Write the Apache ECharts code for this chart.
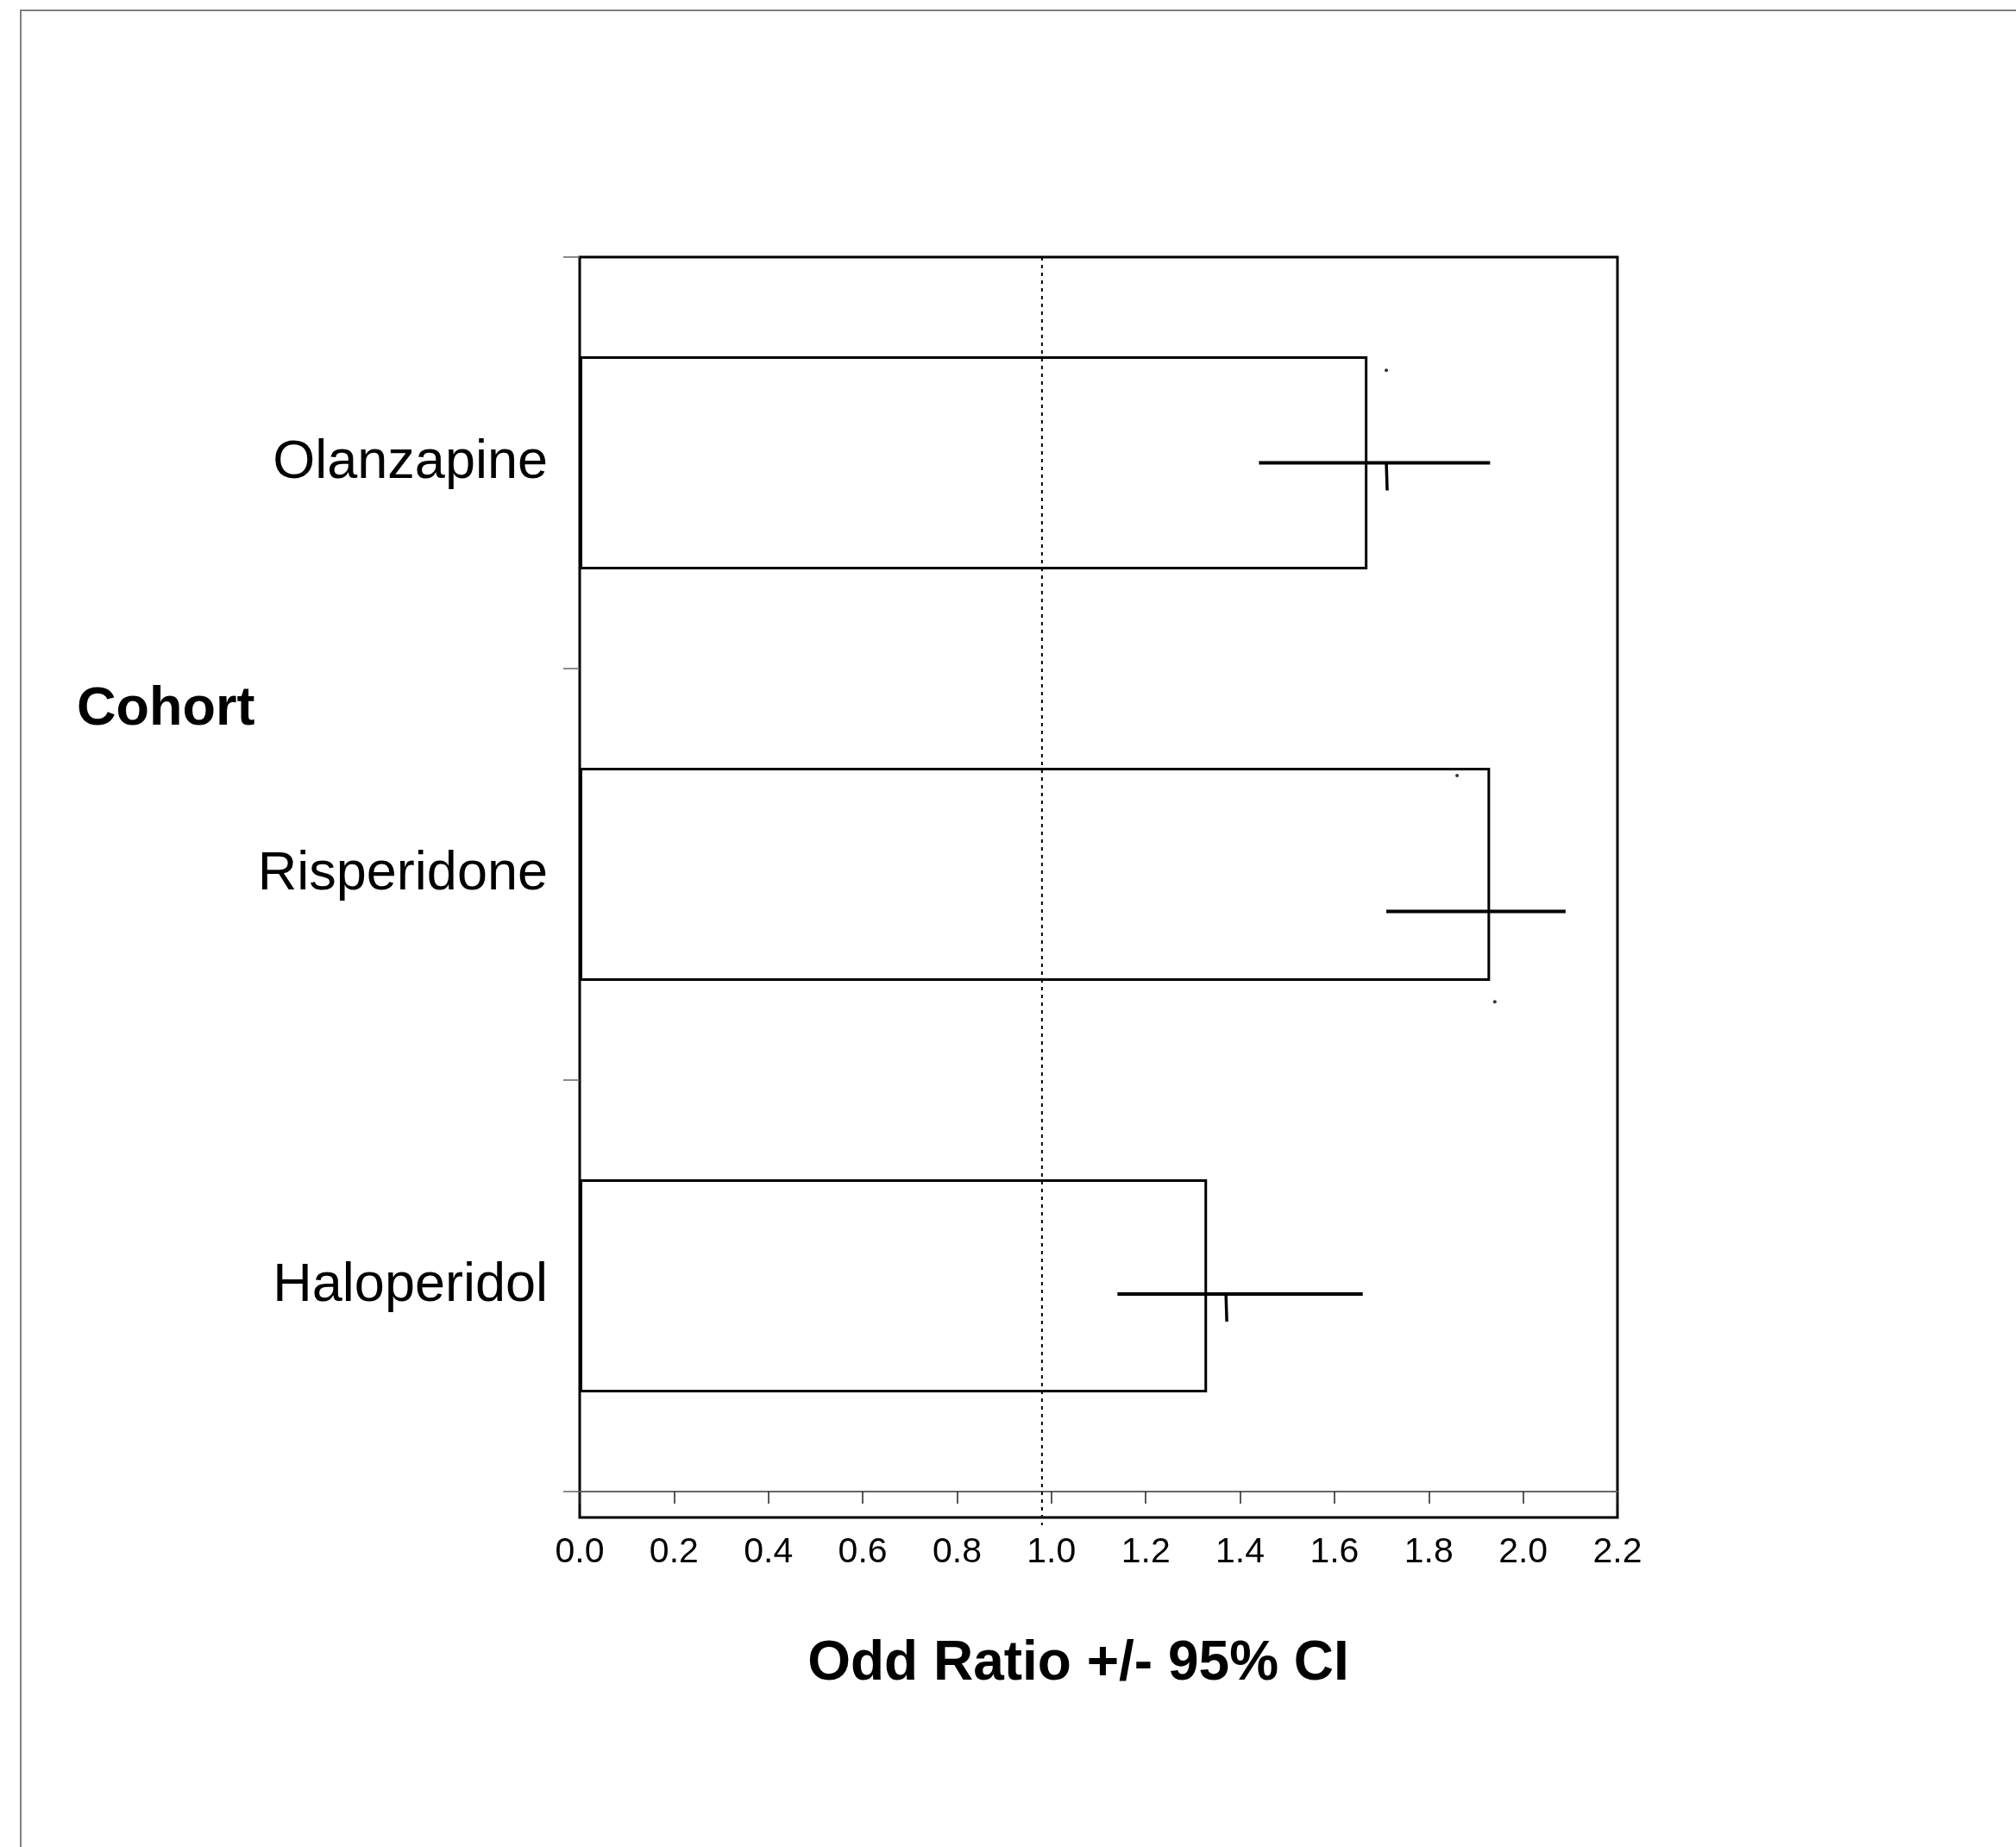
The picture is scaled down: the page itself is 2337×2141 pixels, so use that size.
<!DOCTYPE html>
<html><head><meta charset="utf-8">
<script src="https://cdn.jsdelivr.net/npm/echarts@6/dist/echarts.min.js"></script>
<style>html,body{margin:0;padding:0;background:#fff}#c{width:2337px;height:2141px}</style>
</head><body><div id="c"></div>
<script>
const categories = ['Olanzapine', 'Risperidone', 'Haloperidol'];
const oddsRatio = [1.67, 1.93, 1.33];
const ciLow = [1.44, 1.71, 1.14];
const ciHigh = [1.93, 2.09, 1.66];
const ciRow = [0.50, 1.59, 2.52];      // vertical position of each CI line, in category rows
const hangTick = [1.71, null, 1.37];   // small hanging marks under the CI lines
const strayDots = [[1.71, 0.275], [1.86, 1.26], [1.94, 1.81]];
const xMin = 0, xMax = 2.2, xInterval = 0.2;
const refValue = [0.98];
const rowCount = 3;

const FONT = 'Liberation Sans, Arial, sans-serif';
const chart = echarts.init(document.getElementById('c'), null, {renderer: 'canvas'});

const errData = categories.map((c, i) => [ciLow[i], ciHigh[i], ciRow[i], hangTick[i] == null ? NaN : hangTick[i]]);

chart.setOption({
  backgroundColor: '#fff',
  animation: false,
  grid: [
    {left: 672, right: 462, top: 298, bottom: 412, containLabel: false},
    {left: 672, right: 462, top: 298, bottom: 382, show: true, borderColor: '#000', borderWidth: 3, backgroundColor: 'transparent'}
  ],
  xAxis: [
    {
      type: 'value', gridIndex: 0, min: xMin, max: xMax, interval: xInterval,
      axisLine: {show: true, onZero: false, lineStyle: {color: '#666', width: 2}},
      axisTick: {show: true, length: 14, lineStyle: {color: '#222', width: 1.5}},
      axisLabel: {fontSize: 41, margin: 50, color: '#000', fontFamily: FONT, formatter: v => v.toFixed(1)},
      splitLine: {show: false}
    },
    {type: 'value', gridIndex: 1, min: xMin, max: xMax, show: false}
  ],
  yAxis: [
    {
      type: 'category', gridIndex: 0, data: categories, inverse: true,
      axisLine: {show: false},
      axisTick: {show: true, length: 19, lineStyle: {color: '#666', width: 1.5}},
      axisLabel: {fontSize: 63, margin: 37, color: '#000', fontFamily: FONT, padding: [14, 0, 0, 0]}
    },
    {type: 'value', gridIndex: 0, min: 0, max: rowCount, inverse: true, show: false},
    {type: 'value', gridIndex: 1, min: 0, max: 1, show: false}
  ],
  graphic: [
    {type: 'rect', shape: {x: 24, y: 12, width: 2400, height: 2300}, style: {fill: 'none', stroke: '#808080', lineWidth: 2}, silent: true},
    {type: 'text', left: 89, top: 820 - 29, style: {text: 'Cohort', font: 'bold 63px ' + FONT, fill: '#000'}},
    {type: 'text', x: 1250, y: 1929, style: {text: 'Odd Ratio +/- 95% CI', font: 'bold 64px ' + FONT, fill: '#000', align: 'center', verticalAlign: 'middle'}}
  ],
  series: [
    {
      type: 'bar', xAxisIndex: 0, yAxisIndex: 0, data: oddsRatio, barWidth: 247,
      itemStyle: {color: '#fff', borderColor: '#000', borderWidth: 3}, z: 2
    },
    {
      type: 'custom', xAxisIndex: 0, yAxisIndex: 1, data: errData, z: 5, clip: false,
      encode: {x: [0, 1], y: 2},
      renderItem: function (params, api) {
        const row = api.value(2);
        const a = api.coord([api.value(0), row]);
        const b = api.coord([api.value(1), row]);
        const children = [{type: 'line', shape: {x1: a[0], y1: a[1], x2: b[0], y2: b[1]}, style: {stroke: '#000', lineWidth: 4}}];
        const h = api.value(3);
        if (!isNaN(h)) {
          const p = api.coord([h, row]);
          children.push({type: 'line', shape: {x1: p[0], y1: p[1], x2: p[0] + 1, y2: p[1] + 32}, style: {stroke: '#000', lineWidth: 3.5}});
        }
        return {type: 'group', children: children};
      }
    },
    {
      type: 'scatter', xAxisIndex: 0, yAxisIndex: 1, data: strayDots, symbolSize: 4,
      itemStyle: {color: '#000'}, z: 5
    },
    {
      type: 'custom', xAxisIndex: 0, yAxisIndex: 1, data: refValue.map(v => [v, 0]), z: 4, clip: false,
      renderItem: function (params, api) {
        const top = api.coord([api.value(0), 0]);
        const bot = api.coord([api.value(0), rowCount]);
        return {type: 'line', shape: {x1: top[0], y1: top[1], x2: bot[0], y2: bot[1] + 39},
          style: {stroke: '#000', lineWidth: 2, lineDash: [4, 5]}};
      }
    }
  ]
});
</script></body></html>
